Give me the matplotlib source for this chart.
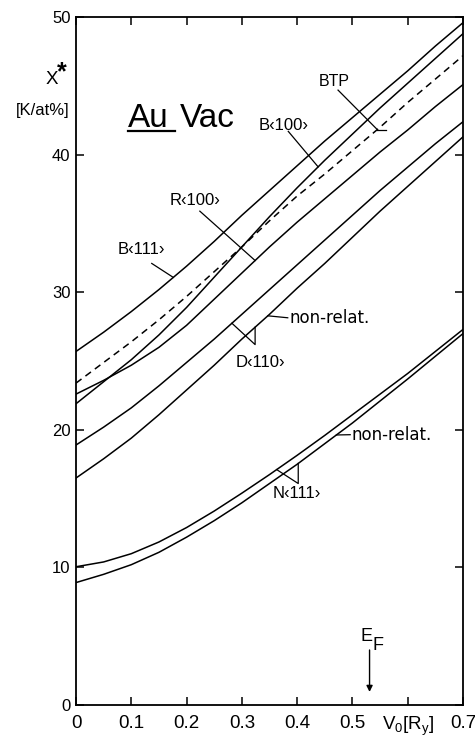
import numpy as np
import matplotlib
matplotlib.use('Agg')
import matplotlib.pyplot as plt

plt.rcParams['font.family'] = ['Liberation Sans', 'DejaVu Sans']
plt.rcParams['mathtext.fontset'] = 'custom'
plt.rcParams['mathtext.rm'] = 'Liberation Sans'

# potential V0 [Ry]
v0 = [0, 0.05, 0.1, 0.15, 0.2, 0.25, 0.3, 0.35, 0.4, 0.45, 0.5, 0.55, 0.6, 0.65, 0.7]

# chi* [K/at%] along the different directions
b111 = [25.7, 27.1, 28.6, 30.2, 31.9, 33.7, 35.6, 37.4, 39.2, 41.0, 42.7, 44.4, 46.1, 47.9, 49.6]
btp = [23.4, 24.9, 26.4, 28.0, 29.7, 31.5, 33.3, 35.2, 37.0, 38.6, 40.3, 42.0, 43.8, 45.5, 47.2]
b100 = [21.9, 23.5, 25.1, 26.9, 28.9, 31.1, 33.3, 35.5, 37.6, 39.6, 41.5, 43.4, 45.2, 47.0, 48.8]
r100 = [22.6, 23.6, 24.7, 26.0, 27.6, 29.5, 31.4, 33.3, 35.1, 36.8, 38.5, 40.2, 41.8, 43.5, 45.1]
d110 = [18.9, 20.2, 21.6, 23.2, 24.9, 26.6, 28.4, 30.2, 32.0, 33.8, 35.6, 37.4, 39.1, 40.8, 42.4]
d110_nr = [16.5, 17.9, 19.4, 21.1, 22.9, 24.7, 26.6, 28.4, 30.3, 32.1, 34.0, 35.9, 37.7, 39.5, 41.3]
n111 = [10.05, 10.4, 11.0, 11.85, 12.9, 14.1, 15.4, 16.75, 18.15, 19.6, 21.1, 22.6, 24.1, 25.7, 27.3]
n111_nr = [8.9, 9.5, 10.2, 11.1, 12.2, 13.4, 14.7, 16.1, 17.5, 19.0, 20.5, 22.1, 23.7, 25.35, 27.0]

xticks = [0, 0.1, 0.2, 0.3, 0.4, 0.5, 0.6, 0.7]
xticklabels = ['0', '0.1', '0.2', '0.3', '0.4', '0.5', r'$\mathregular{V_0[R_y]}$', '0.7']
yticks = [0, 10, 20, 30, 40, 50]
e_fermi = 0.531


def on(curve, x):
    return np.interp(x, v0, curve)


fig = plt.figure(figsize=(4.75, 7.38), dpi=100)
ax = fig.add_axes([0.16, 0.0447, 0.8147, 0.932])

lw = 1.1
for c in (b111, b100, r100, d110, d110_nr, n111, n111_nr):
    ax.plot(v0, c, color='black', lw=lw)
ax.plot(v0, btp, color='black', lw=lw, dashes=(4.5, 3.2))

ax.set_xlim(0, 0.7)
ax.set_ylim(0, 50)
ax.set_xticks(xticks)
ax.set_xticklabels(xticklabels, fontsize=13.5)
ax.set_yticks(yticks)
ax.set_yticklabels([str(t) for t in yticks], fontsize=12)
ax.tick_params(direction='in', top=True, right=True, length=6, width=1.1)
ax.tick_params(axis='x', pad=7)
ax.tick_params(axis='y', pad=4)
for s in ax.spines.values():
    s.set_linewidth(1.3)

# y axis title
fig.text(51.5 / 475, 1 - 80 / 738, 'X', fontsize=13.5, ha='center', va='center')
fig.text(62 / 475, 1 - 72 / 738, '*', fontsize=18, ha='center', va='center', fontweight='bold')
fig.text(42.5 / 475, 1 - 111 / 738, '[K/at%]', fontsize=12, ha='center', va='center')

# title inside the frame
ax.text(0.094, 42.0, 'Au', fontsize=24, ha='left', va='baseline')
ax.text(0.188, 42.0, 'Vac', fontsize=24, ha='left', va='baseline')
ax.plot([0.094, 0.179], [41.72, 41.72], color='black', lw=1.6)

lab = dict(fontsize=12, ha='center', va='center')
nr = dict(fontsize=12, ha='left', va='center', family='DejaVu Sans')
kw = dict(color='black', lw=0.9)

# B<111>
ax.text(0.1175, 33.1, 'B‹111›', **lab)
ax.plot([0.137, 0.176], [32.1, on(b111, 0.176)], **kw)

# R<100>
ax.text(0.215, 36.7, 'R‹100›', **lab)
ax.plot([0.224, 0.324], [35.9, on(r100, 0.324)], **kw)

# B<100>
ax.text(0.376, 42.15, 'B‹100›', **lab)
ax.plot([0.384, 0.438], [41.7, on(b100, 0.438)], **kw)

# BTP
ax.text(0.468, 45.35, 'BTP', fontsize=11.5, ha='center', va='center')
ax.plot([0.474, 0.545], [44.7, on(btp, 0.545)], **kw)
ax.plot([0.545, 0.56], [on(btp, 0.545), on(btp, 0.545)], **kw)

# D<110> bracket and non-relat.
ax.plot([0.282, 0.324, 0.324], [on(d110, 0.282), 26.2, on(d110_nr, 0.324)], **kw)
ax.text(0.333, 24.9, 'D‹110›', **lab)
ax.plot([0.347, 0.383], [on(d110_nr, 0.347), 28.15], **kw)
ax.text(0.387, 28.1, 'non-relat.', **nr)

# N<111> bracket and non-relat.
ax.plot([0.363, 0.402, 0.402], [on(n111, 0.363), 16.1, on(n111_nr, 0.402)], **kw)
ax.text(0.40, 15.4, 'N‹111›', **lab)
ax.plot([0.471, 0.496], [on(n111_nr, 0.471), 19.65], **kw)
ax.text(0.499, 19.6, 'non-relat.', **nr)

# Fermi energy marker
ax.annotate('', xy=(e_fermi, 0.95), xytext=(e_fermi, 4.0),
            arrowprops=dict(arrowstyle='-|>', color='black', lw=1.0,
                            mutation_scale=9, shrinkA=0, shrinkB=0))
ax.text(e_fermi - 0.005, 5.0, 'E', fontsize=13, ha='center', va='center')
ax.text(e_fermi + 0.016, 4.3, 'F', fontsize=13, ha='center', va='center')

plt.savefig('out.png', dpi=100)
